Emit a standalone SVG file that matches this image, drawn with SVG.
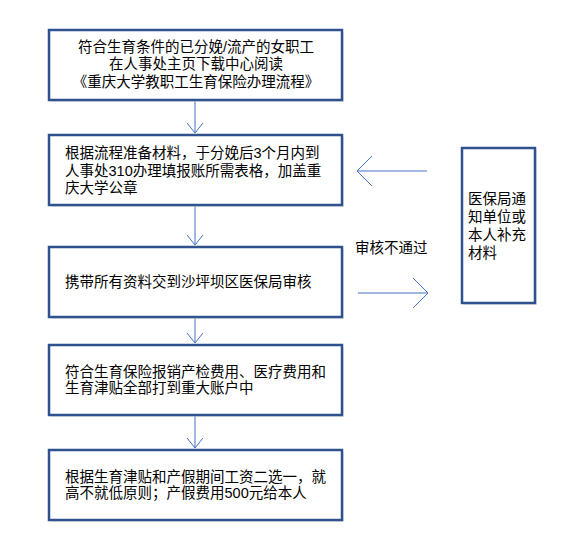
<svg xmlns="http://www.w3.org/2000/svg" width="566" height="548" viewBox="0 0 566 548">
<defs>
<style>
.box{fill:#fff;stroke:#2F528F;stroke-width:2.5}
.sh{fill:#D9D9D9;opacity:0.6}
.t{font-family:"Liberation Sans","Noto Sans CJK SC",sans-serif;font-size:14.5px;fill:#000}
.c{stroke:#4472C4;stroke-width:1;fill:none}
</style>
</defs>
<rect width="566" height="548" fill="#fff"/>
<g id="connectors">
<path class="c" d="M195,101 V133 M187,123 L195,133 L203,123"/>
<path class="c" d="M195,206 V245 M187,235 L195,245 L203,235"/>
<path class="c" d="M195,318 V343 M187,333 L195,343 L203,333"/>
<path class="c" d="M195,416 V448 M187,438 L195,448 L203,438"/>
<path class="c" d="M427,171 H357 M372,156 L357,171 L372,186"/>
<path class="c" d="M358,293 H428 M413,278 L428,293 L413,308"/>
<text class="t" x="355" y="253">审核不通过</text>
</g>
<g id="n1">
<rect class="sh" x="51" y="32" width="293" height="70"/>
<rect class="box" x="49" y="30" width="293" height="70"/>
<text class="t" text-anchor="middle" x="196"><tspan x="196" y="52">符合生育条件的已分娩/流产的女职工</tspan><tspan x="196" y="69">在人事处主页下载中心阅读</tspan><tspan x="196" y="87">《重庆大学教职工生育保险办理流程》</tspan></text>
</g>
<g id="n2">
<rect class="sh" x="51" y="137" width="293" height="70"/>
<rect class="box" x="49" y="135" width="293" height="70"/>
<text class="t"><tspan x="65" y="158">根据流程准备材料，于分娩后3个月内到</tspan><tspan x="65" y="176">人事处310办理填报账所需表格，加盖重</tspan><tspan x="65" y="193">庆大学公章</tspan></text>
</g>
<g id="n3">
<rect class="sh" x="51" y="249" width="293" height="70"/>
<rect class="box" x="49" y="247" width="293" height="70"/>
<text class="t" x="65" y="287">携带所有资料交到沙坪坝区医保局审核</text>
</g>
<g id="n4">
<rect class="sh" x="51" y="347" width="293" height="70"/>
<rect class="box" x="49" y="345" width="293" height="70"/>
<text class="t"><tspan x="65" y="377">符合生育保险报销产检费用、医疗费用和</tspan><tspan x="65" y="393">生育津贴全部打到重大账户中</tspan></text>
</g>
<g id="n5">
<rect class="sh" x="51" y="452" width="293" height="70"/>
<rect class="box" x="49" y="450" width="293" height="70"/>
<text class="t"><tspan x="65" y="482">根据生育津贴和产假期间工资二选一，就</tspan><tspan x="65" y="498">高不就低原则；产假费用500元给本人</tspan></text>
</g>
<g id="n6">
<rect class="sh" x="464" y="150" width="73" height="155"/>
<rect class="box" x="462" y="148" width="73" height="155"/>
<text class="t"><tspan x="468" y="204">医保局通</tspan><tspan x="468" y="222">知单位或</tspan><tspan x="468" y="240">本人补充</tspan><tspan x="468" y="258">材料</tspan></text>
</g>
</svg>
